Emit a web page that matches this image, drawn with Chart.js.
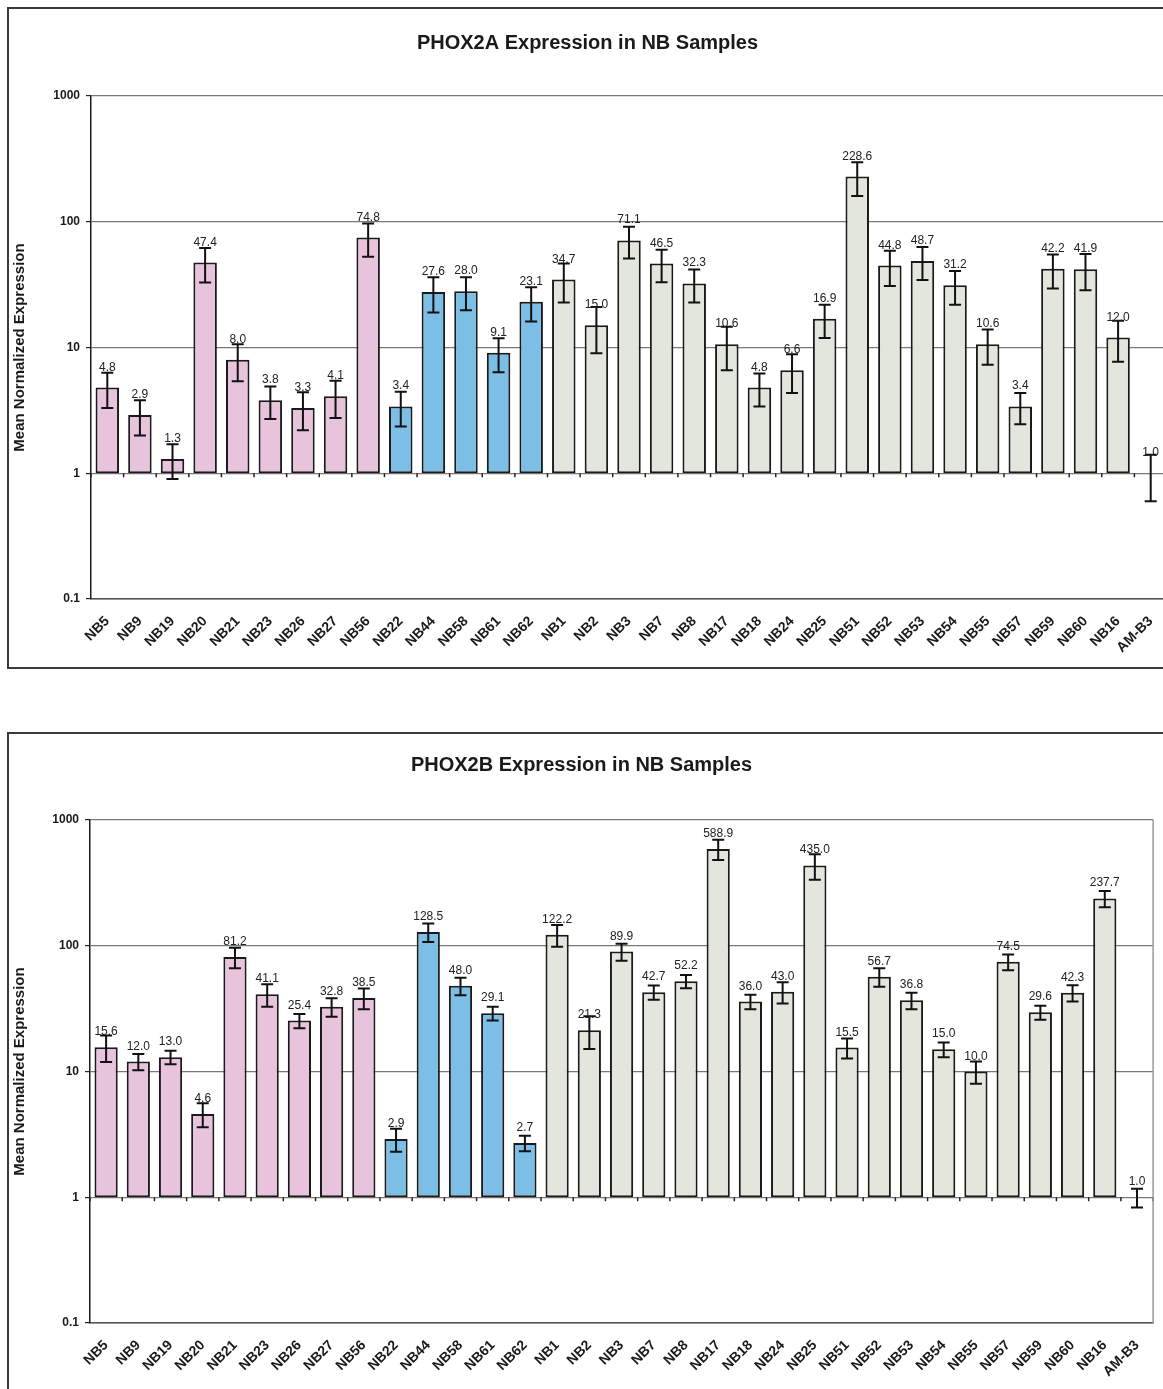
<!DOCTYPE html>
<html>
<head>
<meta charset="utf-8">
<script src="https://cdn.jsdelivr.net/npm/chart.js@4.4.1/dist/chart.umd.min.js"></script>
<style>
  html, body { margin: 0; padding: 0; background: #ffffff; overflow: hidden; width: 1163px; height: 1389px; }
  .box { position: absolute; border: 2px solid #3a3a3a; box-sizing: border-box; }
  .cv { position: absolute; }
</style>
</head>
<body>
<div class="box" style="left:7px; top:7px; width:1220px; height:662px;"></div>
<div class="box" style="left:7px; top:732px; width:1220px; height:720px;"></div>
<canvas id="c1" class="cv" width="1175" height="660" style="left:8px; top:8px;"></canvas>
<canvas id="c2" class="cv" width="1155" height="660" style="left:8px; top:733px;"></canvas>
<script>
// ---------- data ----------
const categories = ['NB5','NB9','NB19','NB20','NB21','NB23','NB26','NB27','NB56',
  'NB22','NB44','NB58','NB61','NB62',
  'NB1','NB2','NB3','NB7','NB8','NB17','NB18','NB24','NB25','NB51','NB52','NB53','NB54','NB55','NB57','NB59','NB60','NB16','AM-B3'];
const groups = ['p','p','p','p','p','p','p','p','p',
  'b','b','b','b','b',
  'g','g','g','g','g','g','g','g','g','g','g','g','g','g','g','g','g','g','g'];

const phox2aValues = [4.8,2.9,1.3,47.4,8.0,3.8,3.3,4.1,74.8,
  3.4,27.6,28.0,9.1,23.1,
  34.7,15.0,71.1,46.5,32.3,10.6,4.8,6.6,16.9,228.6,44.8,48.7,31.2,10.6,3.4,42.2,41.9,12.0,1.0];
const phox2aErrors = [1.5,0.9,0.4,14.5,2.6,1.1,1.1,1.35,22,
  1.05,8.6,8.2,2.75,7.0,
  11.9,6.0,20,13.5,9.5,4.0,1.4,2.25,5.0,68,14,14.3,9.3,3.3,0.95,12.8,13.4,4.3,0.4];

const phox2bValues = [15.6,12.0,13.0,4.6,81.2,41.1,25.4,32.8,38.5,
  2.9,128.5,48.0,29.1,2.7,
  122.2,21.3,89.9,42.7,52.2,588.9,36.0,43.0,435.0,15.5,56.7,36.8,15.0,10.0,74.5,29.6,42.3,237.7,1.0];
const phox2bErrors = [3.7,1.75,1.6,1.0,15,8.4,3.3,5.5,7.3,
  0.6,21.5,7.6,3.6,0.38,
  24,6.2,13.8,5.5,6.2,108,4.7,8.2,100,2.8,9.6,5.5,2.0,2.0,10.6,3.8,6.2,35,0.17];

const yTicks = [0.1, 1, 10, 100, 1000];
const yTickLabels = ['0.1', '1', '10', '100', '1000'];
const barBase = 1;

// ---------- styles ----------
const FONT = "'Liberation Sans', Arial, sans-serif";
const groupColors = { p: 'rgb(232,196,220)', b: 'rgb(124,190,230)', g: 'rgb(226,230,221)' };

const extrasPlugin = {
  id: 'extras',
  afterDatasetsDraw(chart, args, opts) {
    const { ctx, chartArea, scales: { x, y } } = chart;
    const meta = chart.getDatasetMeta(0);
    const vals = opts.values, errs = opts.errors;
    ctx.save();
    // small category tick marks on the crossing line (value 1)
    const yb = y.getPixelForValue(barBase);
    ctx.strokeStyle = '#222';
    ctx.lineWidth = 1.5;
    const n = vals.length;
    for (let i = 0; i <= n; i++) {
      let xp;
      if (i === 0) xp = chartArea.left;
      else if (i === n) xp = chartArea.right;
      else xp = (x.getPixelForValue(i - 1) + x.getPixelForValue(i)) / 2;
      ctx.beginPath();
      ctx.moveTo(xp, yb);
      ctx.lineTo(xp, yb + 4);
      ctx.stroke();
    }
    // error bars
    ctx.strokeStyle = '#111';
    ctx.lineWidth = 2;
    const cap = opts.cap;
    for (let i = 0; i < n; i++) {
      const el = meta.data[i];
      const xp = el.x;
      const v = vals[i], e = errs[i];
      const yt = y.getPixelForValue(v + e);
      const ybm = y.getPixelForValue(Math.max(v - e, 0.001));
      ctx.beginPath();
      ctx.moveTo(xp, yt); ctx.lineTo(xp, ybm);
      ctx.moveTo(xp - cap / 2, yt); ctx.lineTo(xp + cap / 2, yt);
      ctx.moveTo(xp - cap / 2, ybm); ctx.lineTo(xp + cap / 2, ybm);
      ctx.stroke();
    }
    // value labels
    ctx.fillStyle = '#222';
    ctx.font = '12px ' + FONT;
    ctx.textAlign = 'center';
    ctx.textBaseline = 'alphabetic';
    for (let i = 0; i < n; i++) {
      const el = meta.data[i];
      ctx.fillText(vals[i].toFixed(1), el.x, Math.min(el.y, el.base) - opts.labelOffset);
    }
    // right border of plot area
    if (opts.rightBorder) {
      ctx.strokeStyle = '#9a9a9a';
      ctx.lineWidth = 1.5;
      ctx.beginPath();
      ctx.moveTo(chartArea.right, chartArea.top);
      ctx.lineTo(chartArea.right, chartArea.bottom);
      ctx.stroke();
    }
    ctx.restore();
  }
};

function makeChart(id, titleText, values, errors, L) {
  const ctx = document.getElementById(id);
  return new Chart(ctx, {
    type: 'bar',
    data: {
      labels: categories,
      datasets: [{
        data: values.map(v => [barBase, v]),
        backgroundColor: groups.map(g => groupColors[g]),
        borderColor: '#1a1a1a',
        borderWidth: 2,
        borderSkipped: false,
        categoryPercentage: 1.0,
        barPercentage: 0.72
      }]
    },
    options: {
      responsive: false,
      animation: false,
      events: [],
      layout: { padding: { left: 0, right: L.padRight, top: 0, bottom: 0 } },
      plugins: {
        legend: { display: false },
        tooltip: { enabled: false },
        title: {
          display: true,
          text: titleText,
          color: '#1a1a1a',
          font: { family: FONT, size: 20, weight: 'bold' },
          padding: { top: L.titleTop, bottom: L.titleBottom }
        },
        extras: { values: values, errors: errors, cap: 12, labelOffset: L.labelOffset, rightBorder: L.rightBorder }
      },
      scales: {
        x: {
          type: 'category',
          offset: true,
          grid: { display: false, drawTicks: false },
          border: { display: true, color: '#555', width: 1.5 },
          ticks: {
            autoSkip: false, minRotation: 45, maxRotation: 45,
            padding: L.xPad,
            color: '#1a1a1a',
            font: { family: FONT, size: 14, weight: 'bold' }
          },
          afterFit: (s) => { s.height = L.xHeight; }
        },
        y: {
          type: 'logarithmic',
          min: 0.1, max: 1000,
          afterBuildTicks: (s) => { s.ticks = yTicks.map(v => ({ value: v, major: true })); },
          grid: { color: '#7e7676', lineWidth: 1.2, drawTicks: true, tickLength: 5, tickColor: '#222' },
          border: { display: true, color: '#1a1a1a', width: 1.5 },
          ticks: {
            padding: 6,
            color: '#1a1a1a',
            font: { family: FONT, size: 12, weight: 'bold' },
            callback: (v) => { const k = yTicks.indexOf(v); return k >= 0 ? yTickLabels[k] : ''; }
          },
          title: {
            display: true,
            text: 'Mean Normalized Expression',
            color: '#1a1a1a',
            font: { family: FONT, size: 15, weight: 'bold' },
            padding: { top: 3, bottom: 0 }
          },
          afterFit: (s) => { s.width = L.yWidth; }
        }
      }
    },
    plugins: [extrasPlugin]
  });
}

makeChart('c1', 'PHOX2A Expression in NB Samples', phox2aValues, phox2aErrors,
  { padRight: 16, titleTop: 23, titleBottom: 41, xHeight: 69, yWidth: 83, xPad: 14, labelOffset: 17, rightBorder: false });
makeChart('c2', 'PHOX2B Expression in NB Samples', phox2bValues, phox2bErrors,
  { padRight: 8, titleTop: 20, titleBottom: 43, xHeight: 70, yWidth: 82, xPad: 14, labelOffset: 12, rightBorder: true });
</script>
</body>
</html>
